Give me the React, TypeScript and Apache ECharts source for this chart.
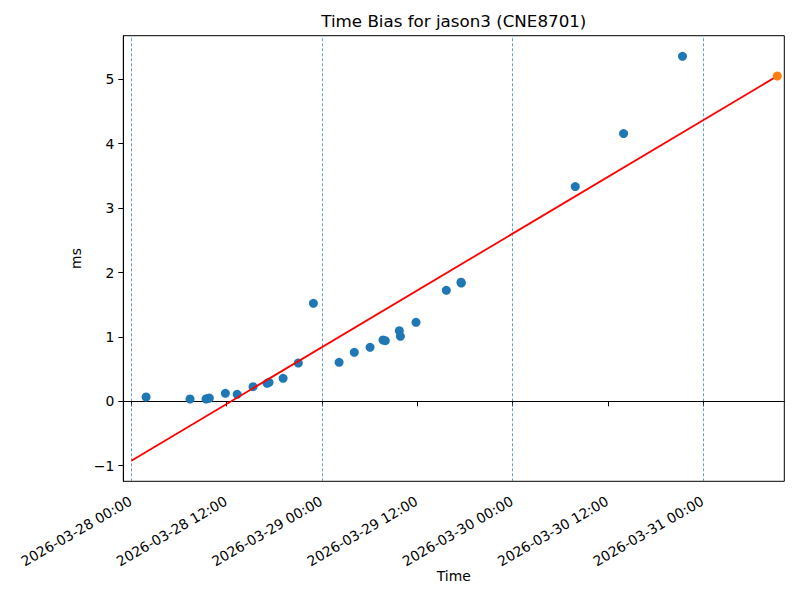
import React, { useEffect, useRef } from "react";
import * as echarts from "echarts";

// Observed time-bias samples (UTC) and values in ms
const biasTimes = [
  "2026-03-28 01:51",
  "2026-03-28 07:23",
  "2026-03-28 09:24",
  "2026-03-28 09:35",
  "2026-03-28 09:49",
  "2026-03-28 11:50",
  "2026-03-28 13:19",
  "2026-03-28 15:19",
  "2026-03-28 17:05",
  "2026-03-28 17:20",
  "2026-03-28 19:06",
  "2026-03-28 21:01",
  "2026-03-28 22:55",
  "2026-03-29 02:09",
  "2026-03-29 04:04",
  "2026-03-29 06:03",
  "2026-03-29 07:41",
  "2026-03-29 07:58",
  "2026-03-29 09:44",
  "2026-03-29 09:52",
  "2026-03-29 11:50",
  "2026-03-29 15:39",
  "2026-03-29 17:30",
  "2026-03-29 17:32",
  "2026-03-30 07:53",
  "2026-03-30 13:58",
  "2026-03-30 21:23",
];
const biasValues = [
  0.067, 0.036, 0.036, 0.043, 0.05, 0.124, 0.109, 0.227, 0.28, 0.295, 0.357,
  0.595, 1.522, 0.606, 0.761, 0.839, 0.952, 0.941, 1.096, 1.009, 1.227, 1.724,
  1.85, 1.837, 3.335, 4.158, 5.357,
];

const latestTimes = ["2026-03-31 09:19"];
const latestValues = [5.051];

const trendTimes = ["2026-03-28 00:00", "2026-03-31 09:19"];
const trendValues = [-0.922, 5.051];

const dayLineTimes = [
  "2026-03-28 00:00",
  "2026-03-29 00:00",
  "2026-03-30 00:00",
  "2026-03-31 00:00",
];
const xTickTimes = [
  "2026-03-28 00:00",
  "2026-03-28 12:00",
  "2026-03-29 00:00",
  "2026-03-29 12:00",
  "2026-03-30 00:00",
  "2026-03-30 12:00",
  "2026-03-31 00:00",
];
const yTicks = [-1, 0, 1, 2, 3, 4, 5];
const xRange = ["2026-03-27 22:59", "2026-03-31 10:12"];
const yRange = [-1.242, 5.677];

function ts(s: string): number {
  const [d, t] = s.split(" ");
  const [Y, M, D] = d.split("-").map(Number);
  const [h, m] = t.split(":").map(Number);
  return Date.UTC(Y, M - 1, D, h, m);
}
function pad(n: number) {
  return n < 10 ? "0" + n : "" + n;
}
function fmt(v: number): string {
  const d = new Date(v);
  return `${d.getUTCFullYear()}-${pad(d.getUTCMonth() + 1)}-${pad(
    d.getUTCDate()
  )} ${pad(d.getUTCHours())}:${pad(d.getUTCMinutes())}`;
}

const FONT = "DejaVu Sans";

export default function App() {
  const ref = useRef<HTMLDivElement>(null);
  useEffect(() => {
    if (!ref.current) return;
    const chart = echarts.init(ref.current, null, { renderer: "svg" });
    const xTicks = xTickTimes.map(ts);
    const markData: any[] = dayLineTimes.map((t) => ({
      xAxis: ts(t),
      lineStyle: { color: "#1f77b4", width: 0.7, type: [3, 2] },
    }));
    markData.push({
      yAxis: 0,
      lineStyle: { color: "#000", width: 0.8, type: "solid" },
    });
    chart.setOption({
      animation: false,
      backgroundColor: "#fff",
      textStyle: { fontFamily: FONT },
      graphic: [
        {
          type: "text",
          x: 453.8,
          y: 21,
          style: {
            text: "Time Bias for jason3 (CNE8701)",
            fontFamily: FONT,
            fontSize: 16.7,
            fill: "#000",
            textAlign: "center",
            textVerticalAlign: "middle",
          },
        },
      ],
      grid: {
        left: 123.3,
        right: 15.7,
        top: 35.7,
        bottom: 118.7,
        show: true,
        borderColor: "#000",
        borderWidth: 1,
        backgroundColor: "transparent",
      },
      xAxis: {
        type: "value",
        min: ts(xRange[0]),
        max: ts(xRange[1]),
        name: "Time",
        nameLocation: "middle",
        nameMoveOverlap: false,
        nameGap: 88,
        nameTextStyle: { fontSize: 13.9, color: "#000", fontFamily: FONT },
        axisLine: { show: true, lineStyle: { color: "#000", width: 1 } },
        axisTick: {
          show: true,
          length: 5,
          lineStyle: { color: "#000", width: 1 },
          customValues: xTicks,
        },
        axisLabel: {
          customValues: xTicks,
          formatter: (v: number) => fmt(v),
          rotate: 30,
          align: "right",
          verticalAlign: "top",
          padding: [0, 5, 0, 0],
          fontSize: 13.9,
          color: "#000",
          fontFamily: FONT,
          margin: 10,
        },
        splitLine: { show: false },
      },
      yAxis: {
        type: "value",
        min: yRange[0],
        max: yRange[1],
        name: "ms",
        nameLocation: "middle",
        nameGap: 36,
        nameTextStyle: { fontSize: 13.9, color: "#000", fontFamily: FONT },
        axisLine: { show: true, lineStyle: { color: "#000", width: 1 } },
        axisTick: {
          show: true,
          length: 5,
          lineStyle: { color: "#000", width: 1 },
          customValues: yTicks,
        },
        axisLabel: {
          customValues: yTicks,
          formatter: (v: number) => (v < 0 ? "\u2212" + Math.abs(v) : String(v)),
          fontSize: 13.9,
          color: "#000",
          fontFamily: FONT,
          margin: 9,
        },
        splitLine: { show: false },
      },
      series: [
        {
          type: "scatter",
          z: 2,
          symbolSize: 9,
          itemStyle: { color: "#1f77b4", opacity: 1 },
          data: biasTimes.map((t, i) => [ts(t), biasValues[i]]),
          markLine: {
            silent: true,
            symbol: "none",
            label: { show: false },
            data: markData,
            z: 1,
          },
        },
        {
          type: "line",
          z: 3,
          showSymbol: false,
          symbol: "none",
          lineStyle: { color: "#ff0000", width: 1.8 },
          itemStyle: { color: "#ff0000" },
          data: trendTimes.map((t, i) => [ts(t), trendValues[i]]),
        },
        {
          type: "scatter",
          z: 4,
          symbolSize: 9,
          itemStyle: { color: "#ff7f0e", opacity: 1 },
          data: latestTimes.map((t, i) => [ts(t), latestValues[i]]),
        },
      ],
    });
    return () => chart.dispose();
  }, []);
  return (
    <div
      ref={ref}
      style={{ position: "fixed", left: 0, top: 0, width: 800, height: 600 }}
    />
  );
}
